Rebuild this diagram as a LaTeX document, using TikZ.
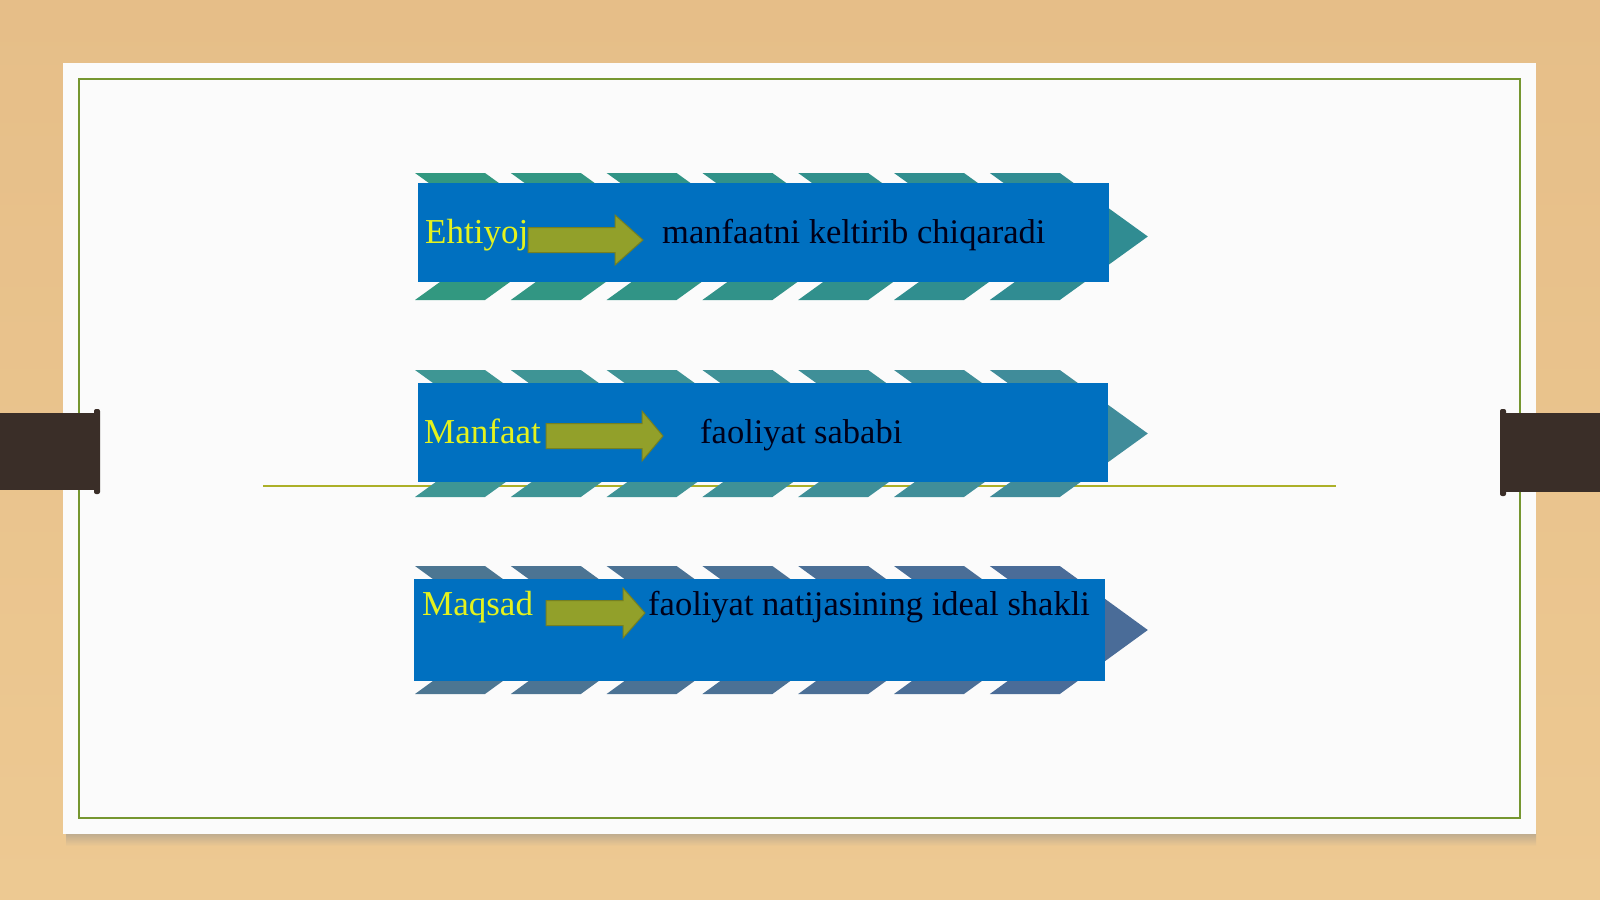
\documentclass[tikz,border=0pt]{standalone}
\usepackage{fontspec}
\setmainfont{Liberation Serif}
\definecolor{woodtop}{RGB}{230,190,136}
\definecolor{woodbottom}{RGB}{237,201,146}
\definecolor{tabdark}{RGB}{58,46,40}
\definecolor{frameolive}{RGB}{118,150,48}
\definecolor{ruleolive}{RGB}{172,176,40}
\definecolor{bandblue}{RGB}{0,112,192}
\definecolor{arrowolive}{RGB}{146,160,42}
\definecolor{labelyellow}{RGB}{228,242,30}
\definecolor{tealA}{RGB}{50,152,128}
\definecolor{tealB}{RGB}{48,140,146}
\definecolor{aquaA}{RGB}{62,150,148}
\definecolor{aquaB}{RGB}{64,140,154}
\definecolor{slateA}{RGB}{76,118,146}
\definecolor{slateB}{RGB}{74,108,152}
\def\cw{70}
\def\cd{88}
\def\cstep{95.8}

% one chevron: left x, top y, bottom y, colour
\newcommand{\chevronshape}[4]{%
  \fill[#4] (#1,#2) -- ({#1+\cw},#2) -- ({#1+\cw+\cd},{(#2+#3)/2}) -- ({#1+\cw},#3)
    -- (#1,#3) -- ({#1+\cd},{(#2+#3)/2}) -- cycle;}
% block arrow: start x, head x, tip x, middle y
\newcommand{\blockarrow}[4]{%
  \draw[arrowolive!80!black, fill=arrowolive, line width=1pt] (#1,{#4-12.5}) -- (#2,{#4-12.5})
    -- (#2,{#4-25}) -- (#3,#4) -- (#2,{#4+25}) -- (#2,{#4+12.5}) -- (#1,{#4+12.5}) -- cycle;}

\tikzset{
  bandbox/.style={fill=bandblue, inner sep=0, anchor=north west},
  labeltext/.style={text=labelyellow, font=\fontsize{35}{40}\selectfont, inner sep=0, anchor=base west},
  bodytext/.style={text=black!90!blue, font=\fontsize{34.5}{40}\selectfont, inner sep=0, anchor=base west}
}

\begin{document}
\begin{tikzpicture}[x=1pt, y=-1pt]
  \useasboundingbox (0,0) rectangle (1600,899);
  \shade[top color=woodtop, bottom color=woodbottom] (0,0) rectangle (1600,899);

  % card
  \shade[top color=black!45, bottom color=woodbottom, opacity=.6] (66,830) rectangle (1536,846);
  \fill[white!97!gray] (63,63) rectangle (1536,834);
  \draw[frameolive, line width=2pt] (79,79) rectangle (1520,818);
  \fill[tabdark] (0,413) rectangle (99,490);
  \fill[tabdark, rounded corners=2] (94,409) rectangle (100,494);
  \fill[tabdark] (1500,413) rectangle (1600,492);
  \fill[tabdark, rounded corners=2] (1500,409) rectangle (1506,496);

  \coordinate (ruleL) at (263,486);
  \coordinate (ruleR) at (1336,486);
  \draw[ruleolive, line width=2pt] (ruleL) -- (ruleR);

  % chevrons
  \foreach \i in {0,...,6}{
    \pgfmathtruncatemacro\p{100-\i*100/6}
    \chevronshape{415+\i*\cstep}{173}{300}{tealA!\p!tealB}
    \chevronshape{415+\i*\cstep}{370}{497}{aquaA!\p!aquaB}
    \chevronshape{415+\i*\cstep}{566}{694}{slateA!\p!slateB}
  }

  \node[bandbox, minimum width=691pt, minimum height=99pt] (band1) at (418,183) {};
  \node[bandbox, minimum width=690pt, minimum height=99pt] (band2) at (418,383) {};
  \node[bandbox, minimum width=691pt, minimum height=102pt] (band3) at (414,579) {};

  \blockarrow{528}{615}{643}{240}
  \blockarrow{546}{642}{663}{436}
  \blockarrow{546}{623}{645}{613}

  \node[labeltext] (need) at (425,243) {Ehtiyoj};
  \node[bodytext] (needres) at (662,243) {manfaatni keltirib chiqaradi};

  \node[labeltext] (gain) at (424,443) {Manfaat};
  \node[bodytext] (gainres) at (700,443) {faoliyat sababi};

  \node[labeltext] (aim) at (422,615) {Maqsad};
  \node[bodytext] (aimres) at (648,615) {faoliyat natijasining ideal shakli};
\end{tikzpicture}
\end{document}
